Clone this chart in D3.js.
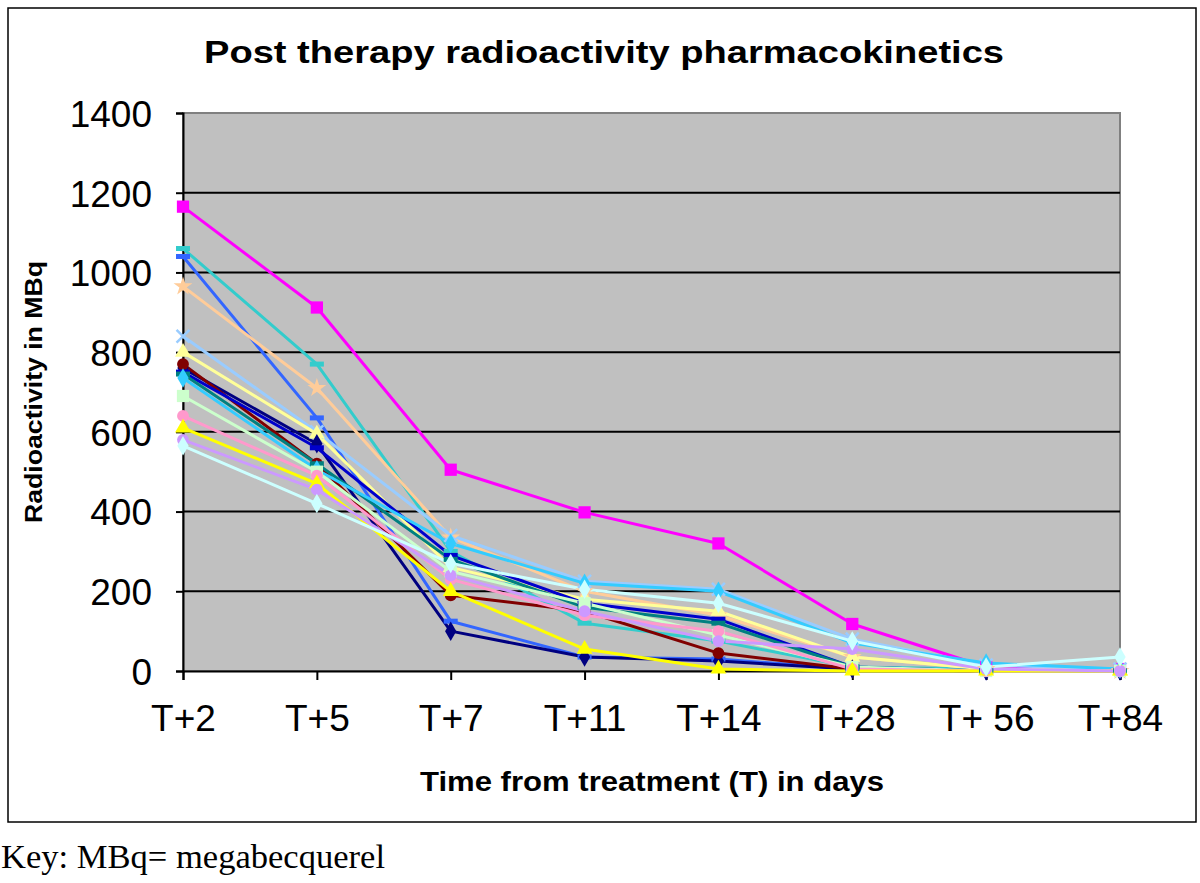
<!DOCTYPE html>
<html>
<head>
<meta charset="utf-8">
<script src="https://cdn.jsdelivr.net/npm/d3@7"></script>
<style>
  html, body { margin: 0; padding: 0; background: #fff; }
  svg { display: block; }
</style>
</head>
<body>
<svg id="chart" width="1200" height="883"></svg>
<script>
// ---- Data ----
const categories = ["T+2", "T+5", "T+7", "T+11", "T+14", "T+28", "T+ 56", "T+84"];
const yTicks = [0, 200, 400, 600, 800, 1000, 1200, 1400];

const seriesNames = ["P1","P2","P3","P4","P5","P6","P7","P8","P9","P10","P11","P12","P13","P14","P15","P16"];
const seriesColors = ["#ff00ff","#33cccc","#3366ff","#ffcc99","#99ccff","#ffff99","#000080","#800000",
                      "#0000cc","#008080","#33ccff","#ccffcc","#ff99cc","#ffff00","#cc99ff","#ccffff"];
const seriesMarkers = ["square","dash","dash","star","x","triangle","diamond","circle",
                       "dash","dash","diamond","square","circle","triangle","circle","diamond"];

const p1  = [1165, 912, 505, 398, 320, 118, 10, 5];
const p2  = [1060, 770, 300, 120, 75, 10, 5, 0];
const p3  = [1040, 635, 125, 35, 30, 5, 0, 0];
const p4  = [965, 710, 335, 200, 140, 35, 5, 0];
const p5  = [840, 600, 340, 225, 205, 80, 15, 5];
const p6  = [800, 595, 260, 180, 150, 35, 5, 0];
const p7  = [760, 570, 100, 35, 25, 5, 0, 0];
const p8  = [770, 520, 190, 150, 45, 5, 0, 0];
const p9  = [750, 560, 290, 170, 130, 10, 0, 0];
const p10 = [745, 520, 280, 160, 120, 10, 0, 0];
const p11 = [735, 505, 320, 220, 200, 70, 20, 5];
const p12 = [690, 500, 250, 170, 90, 10, 0, 0];
const p13 = [640, 490, 230, 140, 100, 5, 0, 0];
const p14 = [610, 470, 200, 55, 5, 0, 0, 0];
const p15 = [580, 455, 240, 150, 75, 55, 5, 0];
const p16 = [565, 420, 270, 205, 170, 75, 10, 35];
const seriesValues = [p1,p2,p3,p4,p5,p6,p7,p8,p9,p10,p11,p12,p13,p14,p15,p16];

// ---- Layout ----
const svg = d3.select("#chart");
const plot = {left: 183, right: 1120, top: 113, bottom: 671};

const x = d3.scalePoint().domain(categories).range([plot.left, plot.right]);
const y = d3.scaleLinear().domain([0, 1400]).range([plot.bottom, plot.top]);

// frame
svg.append("rect").attr("x", 8).attr("y", 8).attr("width", 1188).attr("height", 814)
  .attr("fill", "#fff").attr("stroke", "#000").attr("stroke-width", 1.5);

// plot background
svg.append("rect").attr("x", plot.left).attr("y", plot.top)
  .attr("width", plot.right - plot.left).attr("height", plot.bottom - plot.top)
  .attr("fill", "#c0c0c0").attr("stroke", "#808080").attr("stroke-width", 2);

// gridlines
svg.append("g").selectAll("line").data(yTicks.filter(d => d > 0 && d < 1400)).join("line")
  .attr("x1", plot.left).attr("x2", plot.right)
  .attr("y1", d => y(d)).attr("y2", d => y(d))
  .attr("stroke", "#000").attr("stroke-width", 2);

// y axis
const yAxis = svg.append("g").attr("transform", `translate(${plot.left},0)`)
  .call(d3.axisLeft(y).tickValues(yTicks).tickSize(7).tickPadding(24).tickFormat(d3.format("d")));
yAxis.select(".domain").attr("stroke", "#000").attr("stroke-width", 2);
yAxis.selectAll(".tick line").attr("stroke", "#000").attr("stroke-width", 2);
yAxis.selectAll(".tick text").attr("font-family", "Liberation Sans, Arial, sans-serif")
  .attr("font-size", 37).attr("fill", "#000").attr("dy", "0.36em");

// x axis
const xAxis = svg.append("g").attr("transform", `translate(0,${plot.bottom})`)
  .call(d3.axisBottom(x).tickSize(9).tickPadding(25));
xAxis.select(".domain").attr("stroke", "#000").attr("stroke-width", 2);
xAxis.selectAll(".tick line").attr("stroke", "#000").attr("stroke-width", 2);
xAxis.selectAll(".tick text").attr("font-family", "Liberation Sans, Arial, sans-serif")
  .attr("font-size", 37).attr("fill", "#000");

// lines
const line = d3.line().x((d, i) => x(categories[i])).y(d => y(d));
const g = svg.append("g");
seriesValues.forEach((vals, si) => {
  g.append("path").datum(vals).attr("d", line)
    .attr("fill", "none").attr("stroke", seriesColors[si]).attr("stroke-width", 3)
    .attr("stroke-linejoin", "round");
});

// markers
const symMap = {
  square: d3.symbolSquare, diamond: d3.symbolDiamond, triangle: d3.symbolTriangle,
  circle: d3.symbolCircle, star: d3.symbolStar, x: d3.symbolTimes
};
seriesValues.forEach((vals, si) => {
  const m = seriesMarkers[si], c = seriesColors[si];
  vals.forEach((v, i) => {
    const cx = x(categories[i]), cy = y(v);
    if (m === "dash") {
      g.append("rect").attr("x", cx - 7).attr("y", cy - 2.5).attr("width", 14).attr("height", 5).attr("fill", c);
    } else if (m === "x" ) {
      g.append("path").attr("d", d3.symbol().type(symMap[m]).size(110)())
        .attr("transform", `translate(${cx},${cy})`).attr("fill", "none").attr("stroke", c).attr("stroke-width", 2.5);
    } else {
      g.append("path").attr("d", d3.symbol().type(symMap[m]).size(m === "square" ? 150 : 110)())
        .attr("transform", `translate(${cx},${cy})`).attr("fill", c);
    }
  });
});

// title
svg.append("text").attr("x", 604).attr("y", 63).attr("text-anchor", "middle")
  .attr("font-family", "Liberation Sans, Arial, sans-serif").attr("font-weight", "bold")
  .attr("font-size", 32).attr("textLength", 800).attr("lengthAdjust", "spacingAndGlyphs")
  .text("Post therapy radioactivity pharmacokinetics");

// x axis title
svg.append("text").attr("x", 652).attr("y", 791).attr("text-anchor", "middle")
  .attr("font-family", "Liberation Sans, Arial, sans-serif").attr("font-weight", "bold")
  .attr("font-size", 27).attr("textLength", 464).attr("lengthAdjust", "spacingAndGlyphs")
  .text("Time from treatment (T) in days");

// y axis title
svg.append("text").attr("transform", "translate(42,392) rotate(-90)").attr("text-anchor", "middle")
  .attr("font-family", "Liberation Sans, Arial, sans-serif").attr("font-weight", "bold")
  .attr("font-size", 24).attr("textLength", 262).attr("lengthAdjust", "spacingAndGlyphs")
  .text("Radioactivity in MBq");

// key note
svg.append("text").attr("x", 1).attr("y", 868)
  .attr("font-family", "Liberation Serif, Times New Roman, serif")
  .attr("font-size", 33).attr("textLength", 384).attr("lengthAdjust", "spacingAndGlyphs")
  .text("Key: MBq= megabecquerel");
</script>
</body>
</html>
